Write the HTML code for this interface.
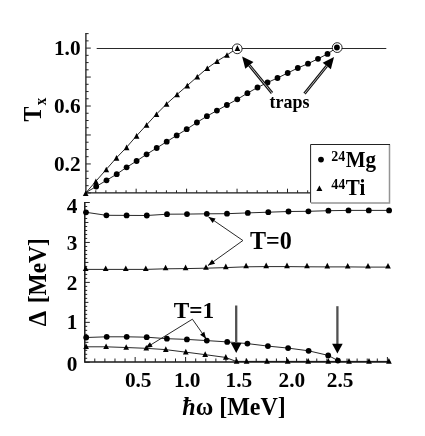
<!DOCTYPE html>
<html><head><meta charset="utf-8"><title>chart</title>
<style>
html,body{margin:0;padding:0;background:#fff;}
body{width:425px;height:436px;overflow:hidden;}
svg{display:block;transform:rotate(0.0001deg);will-change:transform}
text{font-family:"Liberation Serif",serif;font-weight:bold;fill:#000;}
.l{fill:none;stroke:#111;stroke-width:0.9}
.ax{fill:none;stroke:#1a1a1a;stroke-width:1.3}
.tk{stroke:#222;stroke-width:1.0}
</style></head><body>
<svg width="425" height="436" viewBox="0 0 425 436">
<rect width="425" height="436" fill="#fff"/>

<path class="ax" d="M85.9 33V192.9H310.5"/>
<path class="tk" d="M85.9 192.90h4.9M85.9 185.66h2.7M85.9 178.42h2.7M85.9 171.18h2.7M85.9 163.94h4.9M85.9 156.70h2.7M85.9 149.46h2.7M85.9 142.22h2.7M85.9 134.98h4.9M85.9 127.74h2.7M85.9 120.50h2.7M85.9 113.26h2.7M85.9 106.02h4.9M85.9 98.78h2.7M85.9 91.54h2.7M85.9 84.30h2.7M85.9 77.06h4.9M85.9 69.82h2.7M85.9 62.58h2.7M85.9 55.34h2.7M85.9 48.10h4.9M85.9 40.86h2.7M85.9 33.62h2.7M95.79 192.9v-2.6M105.88 192.9v-2.6M115.97 192.9v-2.6M126.06 192.9v-2.6M136.15 192.9v-4.2M146.24 192.9v-2.6M156.33 192.9v-2.6M166.42 192.9v-2.6M176.51 192.9v-2.6M186.60 192.9v-4.2M196.69 192.9v-2.6M206.78 192.9v-2.6M216.87 192.9v-2.6M226.96 192.9v-2.6M237.05 192.9v-4.2M247.14 192.9v-2.6M257.23 192.9v-2.6M267.32 192.9v-2.6M277.41 192.9v-2.6M287.50 192.9v-4.2M297.59 192.9v-2.6M307.68 192.9v-2.6"/>
<path class="l" d="M96.7 48.5H386.3"/>
<polyline class="l" points="86.0,192.5 96.2,186.5 106.5,180.3 116.7,174.2 126.6,167.3 136.6,161.0 146.6,154.3 156.7,148.0 166.7,141.7 176.7,135.4 186.7,129.2 196.9,122.5 206.9,116.2 216.9,110.6 226.9,105.0 237.3,99.3 247.4,93.2 257.5,87.5 267.5,82.5 277.5,78.0 287.7,73.0 297.8,68.0 308.0,63.7 318.0,58.8 327.5,53.9 336.9,47.5"/>
<polyline class="l" points="85.7,193.0 95.6,181.6 106.0,169.7 116.2,158.1 126.3,147.6 136.3,136.1 146.3,125.2 156.2,114.4 166.3,104.2 176.8,94.7 187.0,85.8 197.0,77.0 207.0,68.4 216.8,61.4 226.7,55.2 237.1,48.3"/>
<circle cx="237.2" cy="48.8" r="4.9" fill="#fff" stroke="#111" stroke-width="0.9"/><circle cx="337.2" cy="47.6" r="4.9" fill="#fff" stroke="#111" stroke-width="0.9"/>
<g fill="#000"><circle cx="96.2" cy="186.5" r="2.9"/><circle cx="106.5" cy="180.3" r="2.9"/><circle cx="116.7" cy="174.2" r="2.9"/><circle cx="126.6" cy="167.3" r="2.9"/><circle cx="136.6" cy="161.0" r="2.9"/><circle cx="146.6" cy="154.3" r="2.9"/><circle cx="156.7" cy="148.0" r="2.9"/><circle cx="166.7" cy="141.7" r="2.9"/><circle cx="176.7" cy="135.4" r="2.9"/><circle cx="186.7" cy="129.2" r="2.9"/><circle cx="196.9" cy="122.5" r="2.9"/><circle cx="206.9" cy="116.2" r="2.9"/><circle cx="216.9" cy="110.6" r="2.9"/><circle cx="226.9" cy="105.0" r="2.9"/><circle cx="237.3" cy="99.3" r="2.9"/><circle cx="247.4" cy="93.2" r="2.9"/><circle cx="257.5" cy="87.5" r="2.9"/><circle cx="267.5" cy="82.5" r="2.9"/><circle cx="277.5" cy="78.0" r="2.9"/><circle cx="287.7" cy="73.0" r="2.9"/><circle cx="297.8" cy="68.0" r="2.9"/><circle cx="308.0" cy="63.7" r="2.9"/><circle cx="318.0" cy="58.8" r="2.9"/><circle cx="327.5" cy="53.9" r="2.9"/><circle cx="336.9" cy="47.5" r="2.9"/><path d="M82.85 196.10L88.55 196.10L85.70 190.50Z"/><path d="M93.05 184.20L98.75 184.20L95.90 178.60Z"/><path d="M103.45 172.30L109.15 172.30L106.30 166.70Z"/><path d="M113.65 160.70L119.35 160.70L116.50 155.10Z"/><path d="M123.75 150.20L129.45 150.20L126.60 144.60Z"/><path d="M133.75 138.70L139.45 138.70L136.60 133.10Z"/><path d="M143.75 127.80L149.45 127.80L146.60 122.20Z"/><path d="M153.65 117.00L159.35 117.00L156.50 111.40Z"/><path d="M163.75 106.80L169.45 106.80L166.60 101.20Z"/><path d="M174.25 97.30L179.95 97.30L177.10 91.70Z"/><path d="M184.45 88.40L190.15 88.40L187.30 82.80Z"/><path d="M194.45 79.60L200.15 79.60L197.30 74.00Z"/><path d="M204.45 71.00L210.15 71.00L207.30 65.40Z"/><path d="M214.25 64.00L219.95 64.00L217.10 58.40Z"/><path d="M224.15 57.80L229.85 57.80L227.00 52.20Z"/><path d="M234.55 50.90L240.25 50.90L237.40 45.30Z"/></g>
<path d="M242.10 56.40L253.44 61.98L245.31 68.63Z" fill="#000"/><path d="M272.00 93.00L249.38 65.31" stroke="#111" stroke-width="2.9" fill="none"/><path d="M272.00 93.00L249.38 65.31" stroke="#ddd" stroke-width="0.8" fill="none"/>
<path d="M334.00 57.00L330.89 69.25L322.70 62.67Z" fill="#000"/><path d="M304.50 93.70L326.80 65.96" stroke="#111" stroke-width="2.9" fill="none"/><path d="M304.50 93.70L326.80 65.96" stroke="#ddd" stroke-width="0.8" fill="none"/>
<text transform="translate(269.50,107.90) scale(1,1.100)" font-size="18.0">traps</text>
<rect x="310.6" y="144.5" width="78.8" height="58.2" fill="#fff"/>
<path d="M389.5 144.5V203.0H311" fill="none" stroke="#949494" stroke-width="1.5"/>
<path d="M310.6 202.6V144.5H390" fill="none" stroke="#222" stroke-width="1.0"/>
<circle cx="321" cy="159.6" r="2.9"/>
<path d="M316.40 191.10L322.40 191.10L319.40 185.50Z"/>
<text transform="translate(331.30,160.60) scale(1,1.030)" font-size="14.0">24</text><text transform="translate(345.80,167.30) scale(1,1.050)" font-size="21.0">Mg</text>
<text transform="translate(331.30,188.60) scale(1,1.030)" font-size="14.0">44</text><text transform="translate(345.80,195.30) scale(1,1.050)" font-size="21.0">Ti</text>
<text transform="translate(80.60,55.00)" font-size="21.3" text-anchor="end">1.0</text>
<text transform="translate(80.60,112.92)" font-size="21.3" text-anchor="end">0.6</text>
<text transform="translate(80.60,170.84)" font-size="21.3" text-anchor="end">0.2</text>
<text transform="translate(40.90,121.50) rotate(-90) scale(1,1.140)" font-size="22.3">T</text><text transform="translate(45.60,105.20) rotate(-90) scale(1,1.100)" font-size="15.0">x</text>
<path class="ax" style="stroke-width:1.5" d="M84.8 202V362.0H390.3"/>
<path class="tk" d="M84.8 362.30h5.0M84.8 358.31h2.4M84.8 354.31h2.4M84.8 350.31h2.4M84.8 346.32h2.4M84.8 342.32h3.6M84.8 338.33h2.4M84.8 334.34h2.4M84.8 330.34h2.4M84.8 326.35h2.4M84.8 322.35h5.0M84.8 318.36h2.4M84.8 314.36h2.4M84.8 310.37h2.4M84.8 306.37h2.4M84.8 302.38h3.6M84.8 298.38h2.4M84.8 294.38h2.4M84.8 290.39h2.4M84.8 286.39h2.4M84.8 282.40h5.0M84.8 278.40h2.4M84.8 274.41h2.4M84.8 270.41h2.4M84.8 266.42h2.4M84.8 262.43h3.6M84.8 258.43h2.4M84.8 254.44h2.4M84.8 250.44h2.4M84.8 246.44h2.4M84.8 242.45h5.0M84.8 238.45h2.4M84.8 234.46h2.4M84.8 230.47h2.4M84.8 226.47h2.4M84.8 222.47h3.6M84.8 218.48h2.4M84.8 214.48h2.4M84.8 210.49h2.4M84.8 206.49h2.4M84.8 202.50h5.0M94.79 362.0v-3.5M104.88 362.0v-3.5M114.97 362.0v-3.5M125.06 362.0v-3.5M135.15 362.0v-5.0M145.24 362.0v-3.5M155.33 362.0v-3.5M165.42 362.0v-3.5M175.51 362.0v-3.5M185.60 362.0v-5.0M195.69 362.0v-3.5M205.78 362.0v-3.5M215.87 362.0v-3.5M225.96 362.0v-3.5M236.05 362.0v-5.0M246.14 362.0v-3.5M256.23 362.0v-3.5M266.32 362.0v-3.5M276.41 362.0v-3.5M286.50 362.0v-5.0M296.59 362.0v-3.5M306.68 362.0v-3.5M316.77 362.0v-3.5M326.86 362.0v-3.5M336.95 362.0v-5.0M347.04 362.0v-3.5M357.13 362.0v-3.5M367.22 362.0v-3.5M377.31 362.0v-3.5M387.40 362.0v-5.0"/>
<polyline class="l" points="86.0,212.3 106.4,215.3 126.6,215.4 146.8,215.5 167.0,214.2 187.0,214.1 206.8,213.8 227.0,213.7 247.8,212.9 268.3,212.2 288.5,211.5 308.4,211.3 328.4,210.7 348.5,210.4 368.8,210.4 389.1,210.4"/>
<polyline class="l" points="86.2,337.5 106.7,336.8 126.7,336.8 146.7,337.2 166.9,338.7 186.9,339.4 206.8,340.6 227.2,341.9 247.4,343.6 267.9,346.1 288.1,348.1 308.6,350.8 328.2,355.4 337.9,360.6"/>
<polyline class="l" points="85.7,269.4 105.7,269.4 125.8,269.4 145.8,269.4 165.6,268.8 185.6,268.6 206.0,268.2 225.8,267.6 246.1,266.8 266.2,266.6 287.0,266.6 307.0,266.8 327.3,266.9 347.7,266.9 368.0,267.1 388.0,267.1"/>
<polyline class="l" points="85.7,346.8 105.7,346.8 125.8,347.5 145.9,348.3 165.4,349.6 185.4,352.1 204.8,354.6 225.4,357.4 236.2,361.4 246.2,361.4 266.6,361.4 287.3,361.4 307.8,361.4 327.9,361.4 348.6,361.4 368.6,361.4 388.5,361.4"/>
<g fill="#000"><circle cx="86.0" cy="212.3" r="2.9"/><circle cx="106.4" cy="215.3" r="2.9"/><circle cx="126.6" cy="215.4" r="2.9"/><circle cx="146.8" cy="215.5" r="2.9"/><circle cx="167.0" cy="214.2" r="2.9"/><circle cx="187.0" cy="214.1" r="2.9"/><circle cx="206.8" cy="213.8" r="2.9"/><circle cx="227.0" cy="213.7" r="2.9"/><circle cx="247.8" cy="212.9" r="2.9"/><circle cx="268.3" cy="212.2" r="2.9"/><circle cx="288.5" cy="211.5" r="2.9"/><circle cx="308.4" cy="211.3" r="2.9"/><circle cx="328.4" cy="210.7" r="2.9"/><circle cx="348.5" cy="210.4" r="2.9"/><circle cx="368.8" cy="210.4" r="2.9"/><circle cx="389.1" cy="210.4" r="2.9"/><circle cx="86.2" cy="337.5" r="2.9"/><circle cx="106.7" cy="336.8" r="2.9"/><circle cx="126.7" cy="336.8" r="2.9"/><circle cx="146.7" cy="337.2" r="2.9"/><circle cx="166.9" cy="338.7" r="2.9"/><circle cx="186.9" cy="339.4" r="2.9"/><circle cx="206.8" cy="340.6" r="2.9"/><circle cx="227.2" cy="341.9" r="2.9"/><circle cx="247.4" cy="343.6" r="2.9"/><circle cx="267.9" cy="346.1" r="2.9"/><circle cx="288.1" cy="348.1" r="2.9"/><circle cx="308.6" cy="350.8" r="2.9"/><circle cx="328.2" cy="355.4" r="2.9"/><circle cx="337.9" cy="360.6" r="2.9"/><path d="M82.85 271.00L88.55 271.00L85.70 265.40Z"/><path d="M102.85 271.00L108.55 271.00L105.70 265.40Z"/><path d="M122.95 271.00L128.65 271.00L125.80 265.40Z"/><path d="M142.95 271.00L148.65 271.00L145.80 265.40Z"/><path d="M162.75 270.30L168.45 270.30L165.60 264.70Z"/><path d="M182.75 270.20L188.45 270.20L185.60 264.60Z"/><path d="M203.15 269.80L208.85 269.80L206.00 264.20Z"/><path d="M222.95 269.20L228.65 269.20L225.80 263.60Z"/><path d="M243.25 268.30L248.95 268.30L246.10 262.70Z"/><path d="M263.35 268.20L269.05 268.20L266.20 262.60Z"/><path d="M284.15 268.20L289.85 268.20L287.00 262.60Z"/><path d="M304.15 268.30L309.85 268.30L307.00 262.70Z"/><path d="M324.45 268.40L330.15 268.40L327.30 262.80Z"/><path d="M344.85 268.50L350.55 268.50L347.70 262.90Z"/><path d="M365.15 268.60L370.85 268.60L368.00 263.00Z"/><path d="M385.15 268.60L390.85 268.60L388.00 263.00Z"/><path d="M83.25 349.10L88.95 349.10L86.10 343.50Z"/><path d="M103.25 349.10L108.95 349.10L106.10 343.50Z"/><path d="M123.35 349.80L129.05 349.80L126.20 344.20Z"/><path d="M143.45 350.60L149.15 350.60L146.30 345.00Z"/><path d="M162.95 351.90L168.65 351.90L165.80 346.30Z"/><path d="M182.95 354.40L188.65 354.40L185.80 348.80Z"/><path d="M202.35 356.90L208.05 356.90L205.20 351.30Z"/><path d="M222.95 359.70L228.65 359.70L225.80 354.10Z"/><path d="M233.75 363.70L239.45 363.70L236.60 358.10Z"/><path d="M243.75 363.70L249.45 363.70L246.60 358.10Z"/><path d="M264.15 363.70L269.85 363.70L267.00 358.10Z"/><path d="M284.85 363.70L290.55 363.70L287.70 358.10Z"/><path d="M305.35 363.70L311.05 363.70L308.20 358.10Z"/><path d="M325.45 363.70L331.15 363.70L328.30 358.10Z"/><path d="M346.15 363.70L351.85 363.70L349.00 358.10Z"/><path d="M366.15 363.70L371.85 363.70L369.00 358.10Z"/><path d="M386.05 363.70L391.75 363.70L388.90 358.10Z"/></g>
<text transform="translate(77.40,213.00)" font-size="21.3" text-anchor="end">4</text>
<text transform="translate(77.40,250.30)" font-size="21.3" text-anchor="end">3</text>
<text transform="translate(77.40,290.00)" font-size="21.3" text-anchor="end">2</text>
<text transform="translate(77.40,328.60)" font-size="21.3" text-anchor="end">1</text>
<text transform="translate(77.40,370.50)" font-size="21.3" text-anchor="end">0</text>
<text transform="translate(138.20,386.90)" font-size="21.3" text-anchor="middle">0.5</text>
<text transform="translate(187.20,386.90)" font-size="21.3" text-anchor="middle">1.0</text>
<text transform="translate(238.90,386.90)" font-size="21.3" text-anchor="middle">1.5</text>
<text transform="translate(291.80,386.90)" font-size="21.3" text-anchor="middle">2.0</text>
<text transform="translate(340.10,386.90)" font-size="21.3" text-anchor="middle">2.5</text>
<text transform="translate(182.30,414.70) scale(1,1.060)" font-size="24.0"><tspan font-style="italic">ħ</tspan>ω [MeV]</text>
<text transform="translate(46.00,326.30) rotate(-90) scale(1,1.030)" font-size="24.6">Δ</text><text transform="translate(46.20,303.30) rotate(-90) scale(1,1.060)" font-size="23.5">[MeV]</text>
<path class="l" d="M242.90 240.50L208.50 216.90"/><path d="M208.50 216.90L215.58 218.60L212.64 222.89Z" fill="#000"/>
<path class="l" d="M242.90 240.50L208.00 265.50"/><path d="M208.00 265.50L212.01 259.43L215.04 263.65Z" fill="#000"/>
<text transform="translate(250.00,248.60) scale(1,1.070)" font-size="24.1">T=0</text>
<path class="l" d="M192.40 319.20L145.50 348.10"/><path d="M145.50 348.10L149.93 342.32L152.65 346.75Z" fill="#000"/>
<path class="l" d="M192.40 319.20L206.10 338.70"/><path d="M206.10 338.70L200.06 334.63L204.32 331.64Z" fill="#000"/>
<text transform="translate(173.80,317.60) scale(1,1.030)" font-size="23.3">T=1</text>
<path d="M236.2 305.5V344.1" stroke="#505050" stroke-width="2.3" fill="none"/><path d="M230.9 343.1L241.5 343.1L236.2 353.0Z" fill="#000"/>
<path d="M337.4 306.2V344.8" stroke="#505050" stroke-width="2.3" fill="none"/><path d="M332.1 343.8L342.7 343.8L337.4 353.5Z" fill="#000"/>
</svg></body></html>
